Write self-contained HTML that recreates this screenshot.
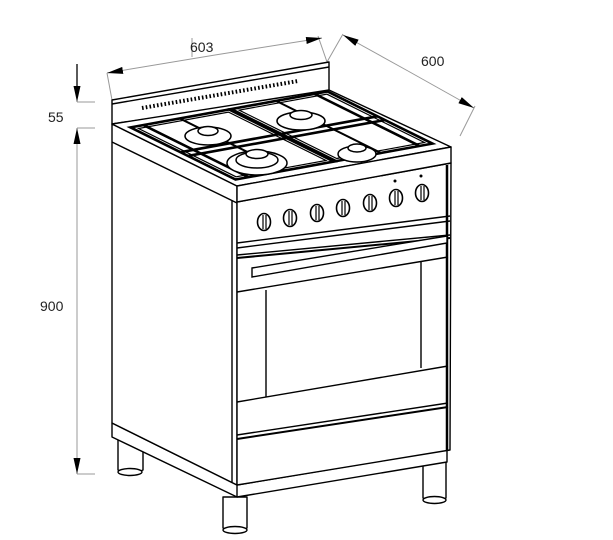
<!DOCTYPE html>
<html><head><style>
html,body{margin:0;padding:0;background:#fff;}
svg{display:block;}
text{font-family:"Liberation Sans",sans-serif;font-size:14px;fill:#222;}
</style></head><body>
<svg width="613" height="540" viewBox="0 0 613 540" xmlns="http://www.w3.org/2000/svg">
<defs>
<marker id="ar" viewBox="0 0 16 7" refX="16" refY="3.5" markerWidth="16" markerHeight="7" markerUnits="userSpaceOnUse" orient="auto"><path d="M0,0 L16,3.5 L0,7 z" fill="#000"/></marker>
</defs>
<g stroke="#999" stroke-width="1" fill="none">
<line x1="107" y1="73" x2="112" y2="100"/>
<line x1="318" y1="36" x2="327" y2="62"/>
<line x1="192" y1="38" x2="192" y2="57"/>
<line x1="343" y1="34" x2="327" y2="62"/>
<line x1="475" y1="106" x2="460" y2="136"/>
<line x1="77" y1="102" x2="95" y2="102"/>
<line x1="77" y1="128" x2="95" y2="128"/>
<line x1="77" y1="474" x2="95" y2="474"/>
<line x1="215" y1="55" x2="107" y2="73" marker-end="url(#ar)"/>
<line x1="215" y1="55" x2="322" y2="38" marker-end="url(#ar)"/>
<line x1="408" y1="71" x2="343" y2="35" marker-end="url(#ar)"/>
<line x1="408" y1="71" x2="474" y2="108" marker-end="url(#ar)"/>
<line x1="77" y1="64" x2="77" y2="102" marker-end="url(#ar)"/>
<line x1="77" y1="300" x2="77" y2="128" marker-end="url(#ar)"/>
<line x1="77" y1="300" x2="77" y2="474" marker-end="url(#ar)"/>
</g>
<g stroke="#000" stroke-width="1.3">
<line x1="77" y1="64" x2="77" y2="90"/>
</g>
<text x="190" y="52">603</text>
<text x="421" y="66">600</text>
<text x="48" y="122">55</text>
<text x="40" y="311">900</text>

<g stroke="#000" stroke-width="1.4" fill="#fff" stroke-linejoin="round">
<path d="M118,438 V470 Q130,476 143,470 V438 Z"/>
<ellipse cx="130" cy="472" rx="12" ry="3.5"/>
<path d="M423,462 V498 Q435,504 446,498 V462 Z"/>
<ellipse cx="434.5" cy="500" rx="11.5" ry="3.5"/>
<path d="M223,497 V528 Q235,534 247,528 V497 Z"/>
<ellipse cx="235" cy="530" rx="12" ry="3.5"/>
<path d="M112,423 L237,485 L447,450 L447,462 L237,497 L112,437 Z"/>
<line x1="237" y1="485" x2="237" y2="497"/>
<path d="M112,124 L237,186 L237,485 L112,423 Z"/>
<line x1="112" y1="142" x2="237" y2="203"/>
<line x1="232" y1="200" x2="232" y2="482"/>
<path d="M237,202 L451,163 L450,450 L237,485 Z"/>
<line x1="447" y1="165" x2="447" y2="450" stroke-width="2.5"/>
<path d="M112,100 L329,62 L329,92 L112,124 Z"/>
<line x1="112" y1="104" x2="329" y2="67"/>
<path d="M112,124 L329,90 L451,147 L237,186 Z"/>
<path d="M237,186 L451,147 L451,163 L237,202 Z"/>
</g>
<line x1="142" y1="108" x2="298" y2="81" stroke="#000" stroke-width="4" stroke-dasharray="1.6,2.2"/>
<g transform="matrix(214,-39,-125,-62,237,186)" fill="none" stroke="#000" stroke-width="2.6">
<rect x="0.04" y="0.08" width="0.46" height="0.84" vector-effect="non-scaling-stroke"/>
<rect x="0.51" y="0.08" width="0.45" height="0.84" vector-effect="non-scaling-stroke"/>
<rect x="0.06" y="0.11" width="0.42" height="0.78" stroke-width="1.2" vector-effect="non-scaling-stroke"/>
<rect x="0.53" y="0.11" width="0.41" height="0.78" stroke-width="1.2" vector-effect="non-scaling-stroke"/>
<line x1="0.04" y1="0.46" x2="0.96" y2="0.46" vector-effect="non-scaling-stroke"/>
<line x1="0.04" y1="0.52" x2="0.96" y2="0.52" vector-effect="non-scaling-stroke"/>
<line x1="0.1" y1="0.08" x2="0.1" y2="0.92" vector-effect="non-scaling-stroke"/>
<line x1="0.9" y1="0.08" x2="0.9" y2="0.92" vector-effect="non-scaling-stroke"/>
<line x1="0.27" y1="0.08" x2="0.27" y2="0.92" stroke-width="2" vector-effect="non-scaling-stroke"/>
<line x1="0.72" y1="0.08" x2="0.72" y2="0.92" stroke-width="2" vector-effect="non-scaling-stroke"/>
</g>
<g stroke="#000" stroke-width="1.5" fill="#fff">
<ellipse cx="257" cy="163" rx="30" ry="12"/>
<ellipse cx="257" cy="160" rx="21" ry="8"/>
<ellipse cx="257" cy="154" rx="11" ry="4.5"/>
<ellipse cx="208" cy="136" rx="23" ry="9"/>
<ellipse cx="208" cy="131" rx="10" ry="4.5"/>
<ellipse cx="301" cy="121" rx="24" ry="9"/>
<ellipse cx="301" cy="115" rx="11" ry="4.5"/>
<ellipse cx="357" cy="154" rx="19" ry="8"/>
<ellipse cx="357" cy="148" rx="9" ry="4"/>
</g>
<g stroke="#000" stroke-width="1.4" fill="none">
<line x1="237" y1="243" x2="450" y2="216"/>
<line x1="237" y1="248" x2="450" y2="221"/>
<line x1="237" y1="255" x2="450" y2="235"/>
<line x1="237" y1="258" x2="450" y2="238" stroke-width="2"/>
<line x1="237" y1="292" x2="448" y2="257"/>
<line x1="237" y1="402" x2="448" y2="366"/>
<line x1="237" y1="435" x2="448" y2="403"/>
<line x1="237" y1="439" x2="448" y2="407" stroke-width="2"/>
<line x1="266" y1="290" x2="266" y2="397"/>
<line x1="421" y1="262" x2="421" y2="368"/>
</g>
<path d="M252,268 L447,236 L447,243 L252,277 Z" fill="#fff" stroke="#000" stroke-width="1.4"/>
<g stroke="#000" stroke-width="1.6" fill="#fff">
<ellipse cx="264" cy="222" rx="6.5" ry="8.5"/>
<ellipse cx="290" cy="218" rx="6.5" ry="8.5"/>
<ellipse cx="317" cy="213" rx="6.5" ry="8.5"/>
<ellipse cx="343" cy="208" rx="6.5" ry="8.5"/>
<ellipse cx="370" cy="203" rx="6.5" ry="8.5"/>
<ellipse cx="396" cy="198" rx="6.5" ry="8.5"/>
<ellipse cx="422" cy="193" rx="6.5" ry="8.5"/>
</g>
<g stroke="#000" stroke-width="1.2">
<line x1="263" y1="215" x2="263" y2="229"/><line x1="266" y1="215" x2="266" y2="229"/>
<line x1="289" y1="211" x2="289" y2="225"/><line x1="292" y1="211" x2="292" y2="225"/>
<line x1="316" y1="206" x2="316" y2="220"/><line x1="319" y1="206" x2="319" y2="220"/>
<line x1="342" y1="201" x2="342" y2="215"/><line x1="345" y1="201" x2="345" y2="215"/>
<line x1="369" y1="196" x2="369" y2="210"/><line x1="372" y1="196" x2="372" y2="210"/>
<line x1="395" y1="191" x2="395" y2="205"/><line x1="398" y1="191" x2="398" y2="205"/>
<line x1="421" y1="186" x2="421" y2="200"/><line x1="424" y1="186" x2="424" y2="200"/>
</g>
<circle cx="395" cy="181" r="1.5"/><circle cx="421" cy="176" r="1.5"/>
</svg>
</body></html>
